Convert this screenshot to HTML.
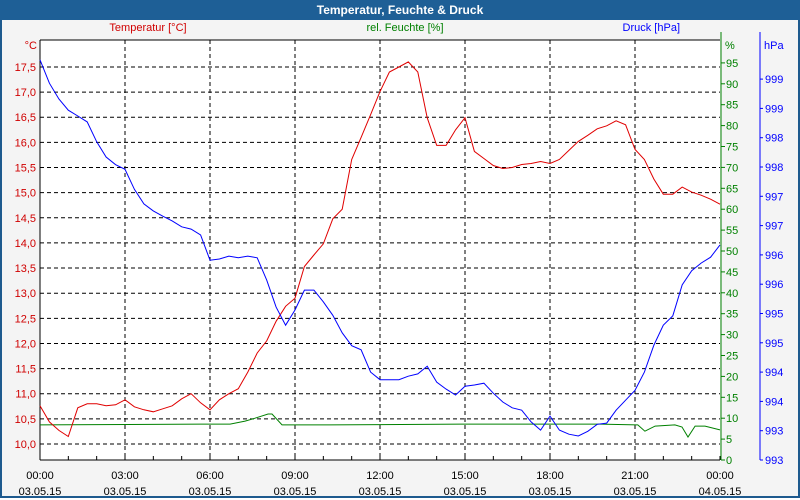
<!DOCTYPE html>
<html><head><meta charset="utf-8"><style>
body{margin:0;width:800px;height:500px;overflow:hidden;background:#fff;font-family:"Liberation Sans",sans-serif;}
#wrap{position:absolute;left:0;top:0;width:796px;height:496px;border:2px solid #1e5a8e;border-top:none;background:#f4f4f4;}
#title{position:absolute;left:0;top:0;width:800px;height:20px;background:#1e5f96;color:#fff;font-weight:bold;font-size:12px;text-align:center;line-height:20px;}
svg{position:absolute;left:0;top:0;}
text{font-family:"Liberation Sans",sans-serif;font-size:11px;}
</style></head><body>
<div id="wrap"></div>
<div id="title">Temperatur, Feuchte &amp; Druck</div>
<svg id="chart" width="800" height="500"></svg>
<script>
const tempTicks=[10,10.5,11,11.5,12,12.5,13,13.5,14,14.5,15,15.5,16,16.5,17,17.5];
const humTicks=[0,5,10,15,20,25,30,35,40,45,50,55,60,65,70,75,80,85,90,95];
const presTicks=[992.8,993.3,993.8,994.3,994.8,995.3,995.8,996.3,996.8,997.3,997.8,998.3,998.8,999.3];
const timeTicks=["00:00","03:00","06:00","09:00","12:00","15:00","18:00","21:00","00:00"];
const dateTicks=["03.05.15","03.05.15","03.05.15","03.05.15","03.05.15","03.05.15","03.05.15","03.05.15","04.05.15"];
const pressure=[999.63,999.23,998.96,998.77,998.67,998.57,998.23,997.97,997.84,997.76,997.42,997.17,997.05,996.96,996.88,996.78,996.74,996.64,996.21,996.23,996.28,996.25,996.28,996.25,995.87,995.41,995.10,995.36,995.70,995.70,995.50,995.27,994.97,994.75,994.68,994.30,994.17,994.17,994.17,994.23,994.27,994.40,994.13,994.01,993.91,994.06,994.08,994.11,993.94,993.79,993.69,993.65,993.45,993.31,993.55,993.31,993.24,993.21,993.29,993.41,993.43,993.65,993.82,993.99,994.30,994.76,995.10,995.26,995.79,996.03,996.16,996.26,996.47];
const temperature=[10.76,10.44,10.27,10.15,10.72,10.80,10.80,10.76,10.78,10.88,10.74,10.68,10.64,10.70,10.76,10.90,11.00,10.82,10.68,10.88,11.00,11.10,11.43,11.81,12.05,12.44,12.74,12.90,13.53,13.76,13.98,14.48,14.67,15.66,16.10,16.55,17.01,17.40,17.50,17.60,17.40,16.49,15.94,15.94,16.25,16.49,15.82,15.68,15.54,15.48,15.50,15.56,15.58,15.62,15.58,15.66,15.84,16.02,16.14,16.27,16.33,16.43,16.35,15.86,15.66,15.27,14.97,14.97,15.11,15.01,14.95,14.87,14.77];
const humTimes=[0,5.65,6.71,7.24,7.59,8.05,8.19,8.54,10.24,14.82,19.76,21.1,21.35,21.71,22.41,22.66,22.87,23.12,23.47,24];
const humidity=[8.4,8.6,8.6,9.3,10.0,11.0,11.0,8.4,8.4,8.6,8.6,8.4,6.9,8.1,8.4,7.9,5.5,8.1,8.1,7.2];

const svg=document.getElementById('chart');
const NS='http://www.w3.org/2000/svg';
const L=40,R=720,T=40,B=460;
const xT=h=>L+h*(R-L)/24;
const yTemp=v=>444-(v-10)*50.27;
const yHum=v=>B-v*4.18;
const yPres=v=>B-(v-992.8)*58.6;
function el(tag,attrs){const e=document.createElementNS(NS,tag);for(const k in attrs)e.setAttribute(k,attrs[k]);svg.appendChild(e);return e;}

const plot=el('rect',{x:L,y:T,width:R-L,height:B-T,fill:'#fff'});



// horizontal grid + temp labels
tempTicks.forEach((v,i)=>{
  const y=yTemp(v);
  const g=el('line',{x1:L,x2:R,y1:y,y2:y,stroke:'#000','stroke-dasharray':'4,3'});
  
  
  const t=el('text',{x:L-4,y:y+4,'text-anchor':'end',fill:'#d00000'});
  t.textContent=v.toFixed(1).replace('.',',');
  
  
});
// vertical grid + time labels
timeTicks.forEach((s,i)=>{
  const x=xT(i*3);
  if(i>0&&i<8){const g=el('line',{x1:x,x2:x,y1:T,y2:B,stroke:'#000','stroke-dasharray':'4,3'});
  
  }
  const t=el('text',{x:x,y:479,'text-anchor':'middle',fill:'#000'});
  t.textContent=s;
  
  
  const d=el('text',{x:x,y:495,'text-anchor':'middle',fill:'#000'});
  d.textContent=dateTicks[i];
  
  
});
for(let h=0;h<=24;h++){const x=xT(h);el('line',{x1:x,x2:x,y1:B,y2:B-4,stroke:'#000'});}
// axes
el('line',{x1:L,x2:L,y1:T,y2:B,stroke:'#000'});
el('line',{x1:L,x2:R,y1:T,y2:T,stroke:'#000'});
el('line',{x1:L,x2:R,y1:B,y2:B,stroke:'#000'});
el('line',{x1:721,x2:721,y1:T-8,y2:B,stroke:'#008000'});
el('line',{x1:760,x2:760,y1:T-8,y2:B,stroke:'#0000ff'});
humTicks.forEach(v=>{const y=yHum(v);el('line',{x1:721,x2:725,y1:y,y2:y,stroke:'#008000'});
  const t=el('text',{x:726,y:y+4,fill:'#008000'});t.textContent=v;
  
  });
presTicks.forEach(v=>{const y=yPres(v);el('line',{x1:760,x2:763,y1:y,y2:y,stroke:'#0000ff'});
  const t=el('text',{x:765,y:y+4,fill:'#0000ff'});t.textContent=v.toFixed(0);
  
  });
// titles
[[148,31,'middle','#d00000','Temperatur [°C]','temp-series-title'],[405,31,'middle','#008000','rel. Feuchte [%]','humidity-series-title'],[680,31,'end','#0000ff','Druck [hPa]','pressure-series-title'],[37,49,'end','#d00000','°C','temp-axis-unit'],[725,49,'start','#008000','%','humidity-axis-unit'],[764,49,'start','#0000ff','hPa','pressure-axis-unit']].forEach(a=>{
  const t=el('text',{x:a[0],y:a[1],'text-anchor':a[2],fill:a[3]});t.textContent=a[4];
  
  });
// series
function line(times,vals,yf,color,name){
  const pts=vals.map((v,i)=>xT(times(i)).toFixed(1)+','+yf(v).toFixed(1)).join(' ');
  const p=el('polyline',{points:pts,fill:'none',stroke:color,'stroke-width':1});
  
  
}
line(i=>humTimes[i],humidity,yHum,'#008000','humidity-line');
line(i=>i/3,temperature,yTemp,'#e00000','temperature-line');
line(i=>i/3,pressure,yPres,'#0000ff','pressure-line');
</script>
</body></html>
